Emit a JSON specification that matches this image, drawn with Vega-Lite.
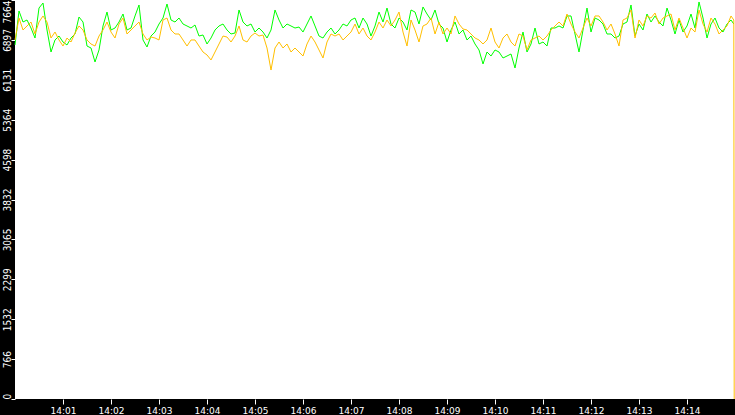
{
  "$schema": "https://vega.github.io/schema/vega-lite/v6.json",
  "width": 720,
  "height": 399,
  "autosize": {"type": "none"},
  "padding": {"left": 15, "top": 0, "right": 0, "bottom": 16},
  "background": "#000000",
  "config": {
    "view": {"fill": "#ffffff", "stroke": null},
    "axis": {"title": null, "grid": false, "domain": false, "tickColor": "#ffffff", "labelColor": "#ffffff", "labelFont": "DejaVu Sans", "labelFontSize": 9, "labelOverlap": false}
  },
  "data": {"values": [
    {"t":0,"g":6800,"o":6896},{"t":5,"g":7453,"o":7318},{"t":10,"g":7241,"o":7088},{"t":15,"g":7280,"o":7165},{"t":20,"g":7126,"o":7241},{"t":25,"g":6934,"o":7011},{"t":30,"g":7510,"o":7241},{"t":35,"g":7606,"o":7357},{"t":40,"g":7088,"o":7241},{"t":45,"g":6665,"o":6934},
    {"t":50,"g":6896,"o":7049},{"t":55,"g":6972,"o":6896},{"t":60,"g":6857,"o":6780},{"t":65,"g":6800,"o":6934},{"t":70,"g":6934,"o":6857},{"t":75,"g":7011,"o":7030},{"t":80,"g":7337,"o":7165},{"t":85,"g":7241,"o":7088},{"t":90,"g":6780,"o":6896},{"t":95,"g":6742,"o":6819},
    {"t":100,"g":6473,"o":6780},{"t":105,"g":6704,"o":6972},{"t":110,"g":7165,"o":7088},{"t":115,"g":7433,"o":7241},{"t":120,"g":7088,"o":7049},{"t":125,"g":7126,"o":6934},{"t":130,"g":7241,"o":7203},{"t":135,"g":7395,"o":7318},{"t":140,"g":7088,"o":7011},{"t":145,"g":7126,"o":7088},
    {"t":150,"g":7357,"o":7165},{"t":155,"g":7568,"o":7241},{"t":160,"g":6896,"o":7011},{"t":165,"g":6761,"o":6896},{"t":170,"g":6972,"o":6953},{"t":175,"g":7049,"o":6934},{"t":180,"g":7203,"o":6896},{"t":185,"g":7318,"o":7280},{"t":190,"g":7587,"o":7318},{"t":195,"g":7280,"o":7088},
    {"t":200,"g":7241,"o":7011},{"t":205,"g":7318,"o":7011},{"t":210,"g":7203,"o":6896},{"t":215,"g":7165,"o":6780},{"t":220,"g":7126,"o":6896},{"t":225,"g":7184,"o":6896},{"t":230,"g":6972,"o":6780},{"t":235,"g":6992,"o":6665},{"t":240,"g":6819,"o":6608},{"t":245,"g":6934,"o":6512},
    {"t":250,"g":7088,"o":6665},{"t":255,"g":7165,"o":6819},{"t":260,"g":7203,"o":6972},{"t":265,"g":7088,"o":6953},{"t":270,"g":7011,"o":6857},{"t":275,"g":7030,"o":6972},{"t":280,"g":7472,"o":7165},{"t":285,"g":7241,"o":6896},{"t":290,"g":7165,"o":6857},{"t":295,"g":7203,"o":6972},
    {"t":300,"g":7049,"o":7030},{"t":305,"g":7126,"o":6972},{"t":310,"g":7049,"o":6992},{"t":315,"g":6934,"o":6742},{"t":320,"g":7088,"o":6319},{"t":325,"g":7472,"o":6742},{"t":330,"g":7280,"o":6857},{"t":335,"g":7126,"o":6742},{"t":340,"g":7203,"o":6819},{"t":345,"g":7165,"o":6665},
    {"t":350,"g":7126,"o":6742},{"t":355,"g":7145,"o":6665},{"t":360,"g":7049,"o":6588},{"t":365,"g":7203,"o":6819},{"t":370,"g":7357,"o":6972},{"t":375,"g":7165,"o":6857},{"t":380,"g":6972,"o":6704},{"t":385,"g":6934,"o":6550},{"t":390,"g":7049,"o":6857},{"t":395,"g":7126,"o":7011},
    {"t":400,"g":7011,"o":6972},{"t":405,"g":7088,"o":7011},{"t":410,"g":7203,"o":6896},{"t":415,"g":7165,"o":6972},{"t":420,"g":7280,"o":7049},{"t":425,"g":7318,"o":7203},{"t":430,"g":7126,"o":7011},{"t":435,"g":7318,"o":7126},{"t":440,"g":7203,"o":6972},{"t":445,"g":6972,"o":6896},
    {"t":450,"g":7165,"o":7049},{"t":455,"g":7433,"o":7241},{"t":460,"g":7241,"o":7126},{"t":465,"g":7510,"o":7280},{"t":470,"g":7203,"o":7165},{"t":475,"g":7126,"o":7280},{"t":480,"g":7318,"o":7433},{"t":485,"g":7241,"o":7049},{"t":490,"g":7088,"o":6780},{"t":495,"g":7472,"o":7280},
    {"t":500,"g":7433,"o":7088},{"t":505,"g":7203,"o":6857},{"t":510,"g":7530,"o":7165},{"t":515,"g":7395,"o":7203},{"t":520,"g":7280,"o":7318},{"t":525,"g":7472,"o":7011},{"t":530,"g":7203,"o":7241},{"t":535,"g":7126,"o":7011},{"t":540,"g":6857,"o":7126},{"t":545,"g":7088,"o":7011},
    {"t":550,"g":7241,"o":7357},{"t":555,"g":7011,"o":7203},{"t":560,"g":7088,"o":7107},{"t":565,"g":6896,"o":7088},{"t":570,"g":6972,"o":7011},{"t":575,"g":6819,"o":6934},{"t":580,"g":6704,"o":6896},{"t":585,"g":6435,"o":6819},{"t":590,"g":6665,"o":6896},{"t":595,"g":6588,"o":7126},
    {"t":600,"g":6704,"o":6857},{"t":605,"g":6665,"o":6742},{"t":610,"g":6550,"o":6934},{"t":615,"g":6588,"o":7011},{"t":620,"g":6627,"o":6857},{"t":625,"g":6358,"o":6780},{"t":630,"g":6742,"o":7011},{"t":635,"g":7049,"o":6972},{"t":640,"g":6665,"o":6704},{"t":645,"g":6819,"o":6896},
    {"t":650,"g":7126,"o":6934},{"t":655,"g":6819,"o":6972},{"t":660,"g":6857,"o":6896},{"t":665,"g":6780,"o":6972},{"t":670,"g":7126,"o":7088},{"t":675,"g":7126,"o":7165},{"t":680,"g":7165,"o":7241},{"t":685,"g":7126,"o":7165},{"t":690,"g":7357,"o":7395},{"t":695,"g":7357,"o":7203},
    {"t":700,"g":7011,"o":7049},{"t":705,"g":6665,"o":6934},{"t":710,"g":7088,"o":7126},{"t":715,"g":7510,"o":7318},{"t":720,"g":7049,"o":7165},{"t":725,"g":7318,"o":7357},{"t":730,"g":7280,"o":7357},{"t":735,"g":7203,"o":7241},{"t":740,"g":7011,"o":7088},{"t":745,"g":7011,"o":7203},
    {"t":750,"g":6934,"o":7011},{"t":755,"g":6972,"o":6780},{"t":760,"g":7203,"o":7280},{"t":765,"g":7241,"o":7318},{"t":770,"g":7568,"o":7472},{"t":775,"g":6972,"o":6934},{"t":780,"g":7203,"o":7280},{"t":785,"g":7088,"o":7165},{"t":790,"g":7395,"o":7357},{"t":795,"g":7241,"o":7318},
    {"t":800,"g":7357,"o":7414},{"t":805,"g":7241,"o":7203},{"t":810,"g":7165,"o":7318},{"t":815,"g":7510,"o":7357},{"t":820,"g":7280,"o":7395},{"t":825,"g":7011,"o":7088},{"t":830,"g":7280,"o":7318},{"t":835,"g":7049,"o":7126},{"t":840,"g":7165,"o":6934},{"t":845,"g":7395,"o":7126},
    {"t":850,"g":7126,"o":7049},{"t":855,"g":7626,"o":7472},{"t":860,"g":7318,"o":7203},{"t":865,"g":6934,"o":7049},{"t":870,"g":7203,"o":7318},{"t":875,"g":7318,"o":7203},{"t":880,"g":7126,"o":7011},{"t":885,"g":7049,"o":7088},{"t":890,"g":7203,"o":7165},{"t":895,"g":7280,"o":7357},
    {"t":898.5,"g":7203,"o":7280},{"t":899,"o":0}
  ]},
  "layer": [
    {
      "mark": {"type": "line", "color": "#00ff00", "strokeWidth": 1},
      "encoding": {
        "x": {"field": "t", "type": "quantitative", "scale": {"domain": [0, 900], "nice": false, "zero": false},
              "axis": {"values": [60,120,180,240,300,360,420,480,540,600,660,720,780,840], "tickCount": 30, "labelExpr": "'14:' + (datum.value < 600 ? '0' : '') + (datum.value / 60)", "tickSize": 5, "labelPadding": 2, "labelFontSize": 9}},
        "y": {"field": "g", "type": "quantitative", "scale": {"domain": [0, 7664], "nice": false, "zero": true},
              "axis": {"values": [0,766,1532,2299,3065,3832,4598,5364,6131,6897,7664], "tickCount": 30, "format": "d", "labelFont": "DejaVu Sans Condensed", "labelFontSize": 10, "tickSize": 4, "labelPadding": 1, "labelAngle": 270, "labelBaseline": "alphabetic",
                       "labelAlign": {"condition": [{"test": "datum.value == 0", "value": "left"}, {"test": "datum.value == 7664", "value": "right"}], "value": "center"}}}
      }
    },
    {
      "mark": {"type": "line", "color": "#ffbf00", "strokeWidth": 1},
      "encoding": {
        "x": {"field": "t", "type": "quantitative"},
        "y": {"field": "o", "type": "quantitative"}
      }
    }
  ]
}
